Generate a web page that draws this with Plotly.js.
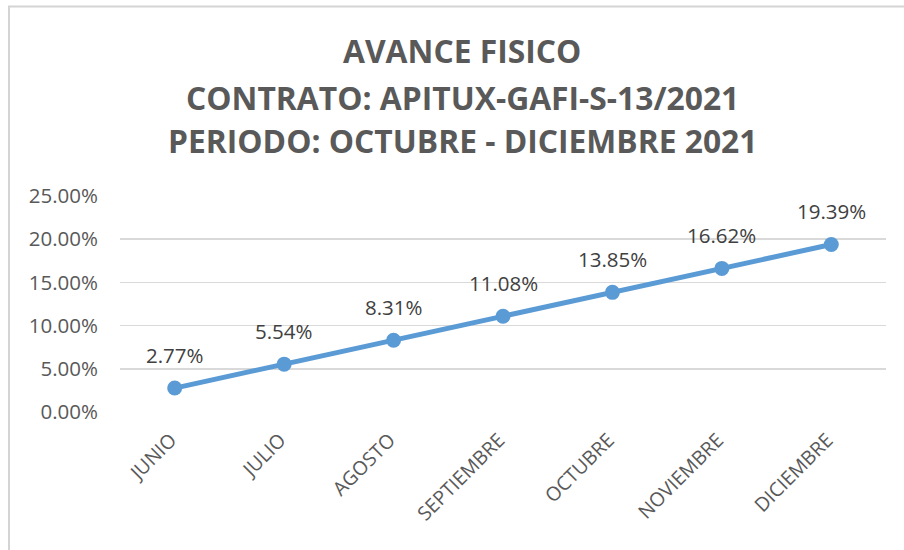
<!DOCTYPE html>
<html><head><meta charset="utf-8">
<script src="https://cdn.plot.ly/plotly-3.0.1.min.js"></script>
<style>html,body{margin:0;padding:0;background:#fff}#chart{width:904px;height:550px}</style>
</head><body><div id="chart"></div>
<script>
const months = ["JUNIO","JULIO","AGOSTO","SEPTIEMBRE","OCTUBRE","NOVIEMBRE","DICIEMBRE"];
const avance = [2.77, 5.54, 8.31, 11.08, 13.85, 16.62, 19.39];
const yTicks = [0, 5, 10, 15, 20, 25];
const yTickLabels = ["0.00%","5.00%","10.00%","15.00%","20.00%","25.00%"];
const titleLines = ["AVANCE FISICO","CONTRATO: APITUX-GAFI-S-13/2021","PERIODO: OCTUBRE - DICIEMBRE 2021"];

const font = "Open Sans, sans-serif";
// plot area: x 120..886 px, y 196..412 px
const pxToPaperY = py => (412 - py) / 216;
const pxToPaperX = px => (px - 120) / 766;
const titleCenters = [50, 97, 140];

const trace = {
  x: months, y: avance, type: 'scatter', mode: 'lines+markers',
  line: {color: '#5B9BD5', width: 5},
  marker: {color: '#5B9BD5', size: 15},
  hoverinfo: 'skip'
};
const annotations = months.map((m, i) => ({
  x: m, y: avance[i], xref: 'x', yref: 'y',
  text: avance[i].toFixed(2) + '%', showarrow: false,
  yshift: 33, font: {family: font, size: 20.5, color: '#404040'}
}));
titleLines.forEach((t, i) => annotations.push({
  x: pxToPaperX(462), y: pxToPaperY(titleCenters[i]), xref: 'paper', yref: 'paper',
  xanchor: 'center', yanchor: 'middle', showarrow: false,
  text: '<b>' + t + '</b>', font: {family: font, size: 31.8, color: '#595959'}
}));
const layout = {
  width: 904, height: 550,
  margin: {l: 120, r: 18, t: 196, b: 138},
  paper_bgcolor: '#fff', plot_bgcolor: '#fff',
  showlegend: false,
  xaxis: {
    type: 'category', range: [-0.5, 6.5], tickangle: -45,
    showgrid: false, zeroline: false, showline: false, ticks: '',
    ticklabelshift: -4, ticklabelstandoff: 12,
    tickfont: {family: font, size: 19.5, color: '#595959'}
  },
  yaxis: {
    range: [0, 25], tickvals: yTicks, ticktext: yTickLabels,
    showgrid: true, gridcolor: '#D9D9D9', gridwidth: 1.5, zeroline: false,
    showline: false, ticks: '', ticklabelstandoff: 21,
    tickfont: {family: font, size: 20.5, color: '#595959'}
  },
  shapes: [{
    type: 'rect', xref: 'paper', yref: 'paper',
    x0: pxToPaperX(9), x1: pxToPaperX(912),
    y0: pxToPaperY(570), y1: pxToPaperY(6.5),
    line: {color: '#D4D4D4', width: 2}, layer: 'below'
  }],
  annotations: annotations
};
Plotly.newPlot('chart', [trace], layout, {staticPlot: true});
</script></body></html>
